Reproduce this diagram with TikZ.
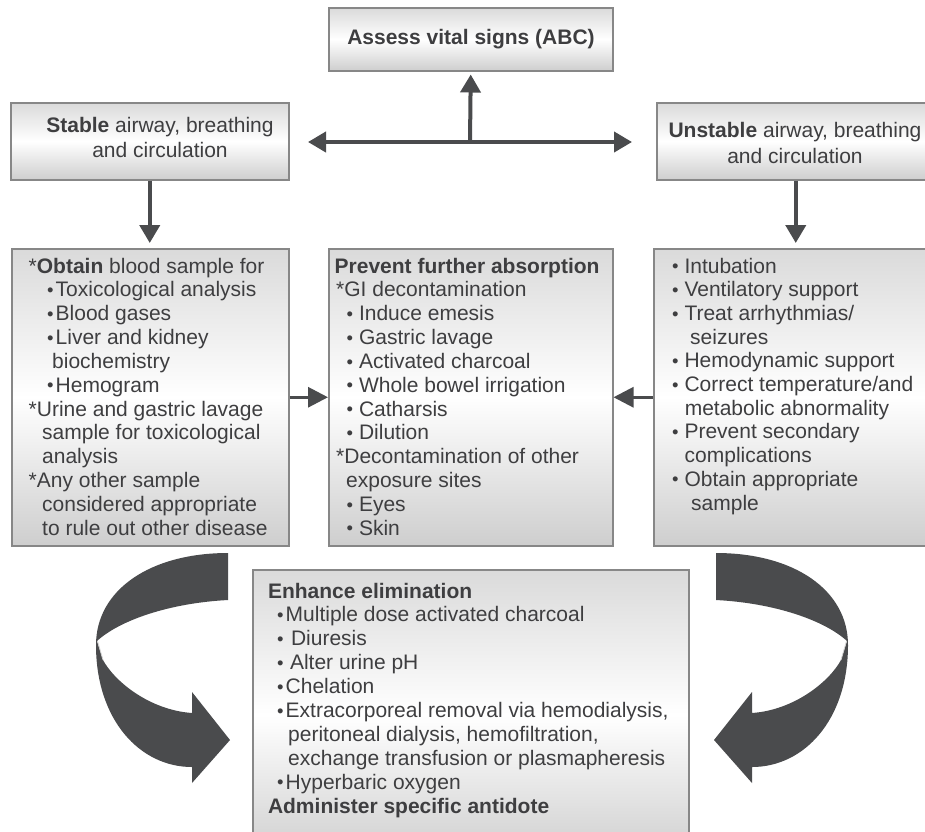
\documentclass[tikz,border=0pt]{standalone}
\usepackage{fontspec}
\setmainfont{Liberation Sans}
\usetikzlibrary{arrows.meta}
\definecolor{txtcol}{RGB}{62,62,64}
\definecolor{arrcol}{RGB}{74,75,77}
\definecolor{boxline}{RGB}{135,135,135}
\definecolor{boxtop}{RGB}{218,218,218}
\definecolor{boxbot}{RGB}{206,206,206}
\newcommand\tbul{{\fontsize{18.5}{18}\selectfont\raisebox{0.4pt}{•}}}
\tikzset{
  box/.style={draw=boxline, line width=1.5pt, top color=boxtop, bottom color=boxbot, middle color=white, inner sep=0pt, anchor=north west},
  ln/.style={font=\fontsize{21}{24}\selectfont, text=txtcol, inner sep=0pt, anchor=base west},
  ctr/.style={ln, anchor=base},
  arr/.style={draw=arrcol, line width=4pt, -{Triangle[width=20pt,length=18pt]}},
  darr/.style={draw=arrcol, line width=4pt, {Triangle[width=20pt,length=18pt]}-{Triangle[width=20pt,length=18pt]}},
  sarr/.style={draw=arrcol, line width=3pt, -{Triangle[width=20pt,length=20pt]}},
  curl/.pic={
    \fill[arrcol] (228,553) .. controls (150,553) and (96,590) .. (96,645)
      .. controls (96,720) and (140,767) .. (192,767) -- (192,783) -- (230,740) -- (192,692) -- (192,713)
      .. controls (150,710) and (115,682) .. (103,660) -- (97,641)
      .. controls (120,620) and (170,603) .. (228,600) -- cycle;
    \draw[white!75!arrcol, line width=0.8pt] (97.5,641) -- (103,660);
  }
}
\begin{document}
\begin{tikzpicture}[x=1pt,y=-1pt]
\useasboundingbox (0,0) rectangle (925,831);
\clip (0,0) rectangle (925,831);

% boxes
\node[box, minimum width=284pt, minimum height=63pt] (top) at (328,7) {};
\node[box, minimum width=278pt, minimum height=77pt] (stab) at (10,102) {};
\node[box, minimum width=281pt, minimum height=77pt] (unst) at (656,102) {};
\node[box, minimum width=277pt, minimum height=297pt] (obt) at (11,248) {};
\node[box, minimum width=284pt, minimum height=297pt] (prev) at (328,248) {};
\node[box, minimum width=284pt, minimum height=297pt] (supp) at (653,248) {};
\node[box, minimum width=436pt, minimum height=290pt] (elim) at (252,569) {};

% headline texts
\node[ctr] (ttop) at (471,44) {\textbf{Assess vital signs (ABC)}};
\node[ctr] (ts1) at (160,132) {\textbf{Stable} airway, breathing};
\node[ctr] (ts2) at (160,157) {and circulation};
\node[ctr] (tu1) at (795,137) {\textbf{Unstable} airway, breathing};
\node[ctr] (tu2) at (795,163) {and circulation};

% obtain box
\foreach \x/\t [count=\i] in {
  28.5/{*\textbf{Obtain} blood sample for},
  47/{\tbul\hspace{2pt}Toxicological analysis},
  47/{\tbul\hspace{2pt}Blood gases},
  47/{\tbul\hspace{2pt}Liver and kidney},
  52/{biochemistry},
  47/{\tbul\hspace{2pt}Hemogram},
  28.5/{*Urine and gastric lavage},
  42/{sample for toxicological},
  42/{analysis},
  28.5/{*Any other sample},
  42/{considered appropriate},
  42/{to rule out other disease}}
  \node[ln] (ob\i) at (\x,{273+23.85*(\i-1)}) {\t};

% prevent box
\foreach \x/\t [count=\i] in {
  334.5/{\textbf{Prevent further absorption}},
  336/{*GI decontamination},
  346.5/{\tbul\ Induce emesis},
  346.5/{\tbul\ Gastric lavage},
  346.5/{\tbul\ Activated charcoal},
  346.5/{\tbul\ Whole bowel irrigation},
  346.5/{\tbul\ Catharsis},
  346.5/{\tbul\ Dilution},
  336/{*Decontamination of other},
  346/{exposure sites},
  346.5/{\tbul\ Eyes},
  346.5/{\tbul\ Skin}}
  \node[ln] (pr\i) at (\x,{273+23.85*(\i-1)}) {\t};

% support box
\foreach \x/\t [count=\i] in {
  672/{\tbul\ Intubation},
  672/{\tbul\ Ventilatory support},
  672/{\tbul\ Treat arrhythmias/},
  690/{seizures},
  672/{\tbul\ Hemodynamic support},
  672/{\tbul\ Correct temperature/and},
  684.6/{metabolic abnormality},
  672/{\tbul\ Prevent secondary},
  684.5/{complications},
  672/{\tbul\ Obtain appropriate},
  691/{sample}}
  \node[ln] (su\i) at (\x,{273+23.7*(\i-1)}) {\t};

% eliminate box
\foreach \x/\t [count=\i] in {
  267.8/{\textbf{Enhance elimination}},
  277/{\tbul\hspace{2pt}Multiple dose activated charcoal},
  277/{\tbul\ \hspace{1.5pt}Diuresis},
  277/{\tbul\ \hspace{0.5pt}Alter urine pH},
  277/{\tbul\hspace{2pt}Chelation},
  277/{\tbul\hspace{2pt}Extracorporeal removal via hemodialysis,},
  288/{peritoneal dialysis, hemofiltration,},
  288/{exchange transfusion or plasmapheresis},
  277/{\tbul\hspace{2pt}Hyperbaric oxygen},
  267.8/{\textbf{Administer specific antidote}}}
  \node[ln] (el\i) at (\x,{598+23.9*(\i-1)}) {\t};

% connectors
\coordinate (j) at (470,142);
\coordinate (jl) at (308,142);
\coordinate (jr) at (632,142);
\draw[darr] (jl) -- (jr);
\draw[arr, shorten >=3pt] (j) -- (top.south);
\draw[arr, shorten >=5pt] (stab.south) -- (stab.south |- obt.north);
\draw[arr, shorten >=5pt] ([xshift=-1.5pt]unst.south) -- ([xshift=-1.5pt]unst.south |- supp.north);
\draw[sarr] (obt.east) -- (prev.west);
\draw[sarr] (supp.west) -- (prev.east);

% curved arrows
\pic at (0,0) {curl};
\pic[xscale=-1] at (944,0) {curl};
\end{tikzpicture}
\end{document}
